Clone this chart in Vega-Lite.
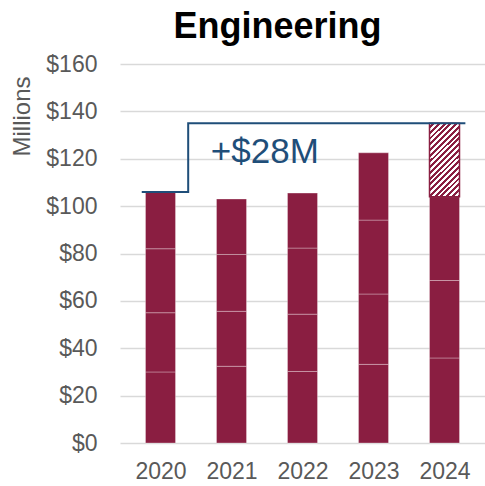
{
  "$schema": "https://vega.github.io/schema/vega-lite/v6.json",
  "autosize": "none",
  "padding": {"left": 120, "top": 64, "right": 0, "bottom": 43},
  "width": 365,
  "height": 379,
  "background": "white",
  "config": {
    "font": "Liberation Sans",
    "view": {"stroke": null}
  },
  "title": {
    "text": "Engineering",
    "fontSize": 36,
    "fontWeight": "bold",
    "font": "Liberation Sans",
    "color": "#000000",
    "anchor": "middle",
    "dx": -25,
    "dy": 36,
    "baseline": "alphabetic",
    "offset": 15
  },
  "datasets": {
    "bars": [
      {"year": 2020, "seg": "s1", "kind": "solid", "value": 30},
      {"year": 2020, "seg": "s2", "kind": "solid", "value": 25},
      {"year": 2020, "seg": "s3", "kind": "solid", "value": 27},
      {"year": 2020, "seg": "s4", "kind": "solid", "value": 24},
      {"year": 2021, "seg": "s1", "kind": "solid", "value": 32.4},
      {"year": 2021, "seg": "s2", "kind": "solid", "value": 23.2},
      {"year": 2021, "seg": "s3", "kind": "solid", "value": 24},
      {"year": 2021, "seg": "s4", "kind": "solid", "value": 23.4},
      {"year": 2022, "seg": "s1", "kind": "solid", "value": 30.2},
      {"year": 2022, "seg": "s2", "kind": "solid", "value": 24.2},
      {"year": 2022, "seg": "s3", "kind": "solid", "value": 27.9},
      {"year": 2022, "seg": "s4", "kind": "solid", "value": 23.2},
      {"year": 2023, "seg": "s1", "kind": "solid", "value": 33.2},
      {"year": 2023, "seg": "s2", "kind": "solid", "value": 29.7},
      {"year": 2023, "seg": "s3", "kind": "solid", "value": 31.2},
      {"year": 2023, "seg": "s4", "kind": "solid", "value": 28.4},
      {"year": 2024, "seg": "s1", "kind": "solid", "value": 35.9},
      {"year": 2024, "seg": "s2", "kind": "solid", "value": 32.7},
      {"year": 2024, "seg": "s3", "kind": "solid", "value": 35.4},
      {"year": 2024, "seg": "s4", "kind": "new", "value": 31}
    ],
    "bracket": [
      {"i": 1, "x": 2019.75, "y": 106},
      {"i": 2, "x": 2020.39, "y": 106},
      {"i": 3, "x": 2020.39, "y": 135},
      {"i": 4, "x": 2024.28, "y": 135}
    ],
    "label": [
      {"x": 2021.47, "y": 118.1, "text": "+$28M"}
    ]
  },
  "layer": [
    {
      "data": {"name": "bars"},
      "transform": [
        {"stack": "value", "groupby": ["year"], "sort": [{"field": "seg"}], "as": ["y0", "y1"]},
        {"filter": "datum.kind === 'solid'"}
      ],
      "mark": {"type": "bar", "width": 30, "fill": "#8A1E41", "stroke": "#ffffff", "strokeOpacity": 0.3, "strokeWidth": 1},
      "encoding": {
        "x": {
          "field": "year", "type": "quantitative",
          "scale": {"domain": [2019.5, 2024.5], "nice": false, "zero": false},
          "axis": {
            "values": [2020, 2021, 2022, 2023, 2024], "format": "d",
            "title": null, "grid": false, "domain": false, "ticks": false,
            "labelFontSize": 23, "labelColor": "#595959", "labelPadding": 17,
            "labelFont": "Liberation Sans"
          }
        },
        "y": {
          "field": "y1", "type": "quantitative",
          "scale": {"domain": [0, 160], "nice": false},
          "axis": {
            "values": [0, 20, 40, 60, 80, 100, 120, 140, 160], "format": "$d",
            "title": "Millions", "titleFontSize": 24, "titleFontWeight": "normal",
            "titleColor": "#595959", "titleFont": "Liberation Sans",
            "titleAngle": -90, "titleAlign": "center", "titleBaseline": "middle",
            "titleX": -98, "titleY": 52,
            "grid": true, "gridColor": "#D9D9D9", "gridWidth": 1.5,
            "domain": false, "ticks": false,
            "labelFontSize": 23, "labelColor": "#595959", "labelPadding": 23,
            "labelFont": "Liberation Sans"
          }
        },
        "y2": {"field": "y0"}
      }
    },
    {
      "data": {"name": "bars"},
      "transform": [
        {"stack": "value", "groupby": ["year"], "sort": [{"field": "seg"}], "as": ["y0", "y1"]},
        {"filter": "datum.kind === 'new'"}
      ],
      "mark": {
        "type": "bar", "width": 30, "stroke": "#8A1E41", "strokeWidth": 1.5,
        "fill": {
          "gradient": "linear", "x1": 0, "y1": 0, "x2": 0.489, "y2": 1.207,
          "stops": [
            {"offset": 0, "color": "#ffffff"}, {"offset": 0.0278, "color": "#ffffff"},
            {"offset": 0.0278, "color": "#8A1E41"}, {"offset": 0.0556, "color": "#8A1E41"},
            {"offset": 0.0556, "color": "#ffffff"}, {"offset": 0.0833, "color": "#ffffff"},
            {"offset": 0.0833, "color": "#8A1E41"}, {"offset": 0.1111, "color": "#8A1E41"},
            {"offset": 0.1111, "color": "#ffffff"}, {"offset": 0.1389, "color": "#ffffff"},
            {"offset": 0.1389, "color": "#8A1E41"}, {"offset": 0.1667, "color": "#8A1E41"},
            {"offset": 0.1667, "color": "#ffffff"}, {"offset": 0.1944, "color": "#ffffff"},
            {"offset": 0.1944, "color": "#8A1E41"}, {"offset": 0.2222, "color": "#8A1E41"},
            {"offset": 0.2222, "color": "#ffffff"}, {"offset": 0.25, "color": "#ffffff"},
            {"offset": 0.25, "color": "#8A1E41"}, {"offset": 0.2778, "color": "#8A1E41"},
            {"offset": 0.2778, "color": "#ffffff"}, {"offset": 0.3056, "color": "#ffffff"},
            {"offset": 0.3056, "color": "#8A1E41"}, {"offset": 0.3333, "color": "#8A1E41"},
            {"offset": 0.3333, "color": "#ffffff"}, {"offset": 0.3611, "color": "#ffffff"},
            {"offset": 0.3611, "color": "#8A1E41"}, {"offset": 0.3889, "color": "#8A1E41"},
            {"offset": 0.3889, "color": "#ffffff"}, {"offset": 0.4167, "color": "#ffffff"},
            {"offset": 0.4167, "color": "#8A1E41"}, {"offset": 0.4444, "color": "#8A1E41"},
            {"offset": 0.4444, "color": "#ffffff"}, {"offset": 0.4722, "color": "#ffffff"},
            {"offset": 0.4722, "color": "#8A1E41"}, {"offset": 0.5, "color": "#8A1E41"},
            {"offset": 0.5, "color": "#ffffff"}, {"offset": 0.5278, "color": "#ffffff"},
            {"offset": 0.5278, "color": "#8A1E41"}, {"offset": 0.5556, "color": "#8A1E41"},
            {"offset": 0.5556, "color": "#ffffff"}, {"offset": 0.5833, "color": "#ffffff"},
            {"offset": 0.5833, "color": "#8A1E41"}, {"offset": 0.6111, "color": "#8A1E41"},
            {"offset": 0.6111, "color": "#ffffff"}, {"offset": 0.6389, "color": "#ffffff"},
            {"offset": 0.6389, "color": "#8A1E41"}, {"offset": 0.6667, "color": "#8A1E41"},
            {"offset": 0.6667, "color": "#ffffff"}, {"offset": 0.6944, "color": "#ffffff"},
            {"offset": 0.6944, "color": "#8A1E41"}, {"offset": 0.7222, "color": "#8A1E41"},
            {"offset": 0.7222, "color": "#ffffff"}, {"offset": 0.75, "color": "#ffffff"},
            {"offset": 0.75, "color": "#8A1E41"}, {"offset": 0.7778, "color": "#8A1E41"},
            {"offset": 0.7778, "color": "#ffffff"}, {"offset": 0.8056, "color": "#ffffff"},
            {"offset": 0.8056, "color": "#8A1E41"}, {"offset": 0.8333, "color": "#8A1E41"},
            {"offset": 0.8333, "color": "#ffffff"}, {"offset": 0.8611, "color": "#ffffff"},
            {"offset": 0.8611, "color": "#8A1E41"}, {"offset": 0.8889, "color": "#8A1E41"},
            {"offset": 0.8889, "color": "#ffffff"}, {"offset": 0.9167, "color": "#ffffff"},
            {"offset": 0.9167, "color": "#8A1E41"}, {"offset": 0.9444, "color": "#8A1E41"},
            {"offset": 0.9444, "color": "#ffffff"}, {"offset": 0.9722, "color": "#ffffff"},
            {"offset": 0.9722, "color": "#8A1E41"}, {"offset": 1, "color": "#8A1E41"}
          ]
        }
      },
      "encoding": {
        "x": {"field": "year", "type": "quantitative"},
        "y": {"field": "y1", "type": "quantitative"},
        "y2": {"field": "y0"}
      }
    },
    {
      "data": {"name": "bracket"},
      "mark": {"type": "line", "color": "#1F4E79", "strokeWidth": 2, "strokeCap": "square"},
      "encoding": {
        "x": {"field": "x", "type": "quantitative"},
        "y": {"field": "y", "type": "quantitative"},
        "order": {"field": "i", "type": "quantitative"}
      }
    },
    {
      "data": {"name": "label"},
      "mark": {"type": "text", "fontSize": 35, "color": "#1F4E79", "align": "center", "baseline": "alphabetic", "font": "Liberation Sans"},
      "encoding": {
        "x": {"field": "x", "type": "quantitative"},
        "y": {"field": "y", "type": "quantitative"},
        "text": {"field": "text"}
      }
    }
  ]
}
